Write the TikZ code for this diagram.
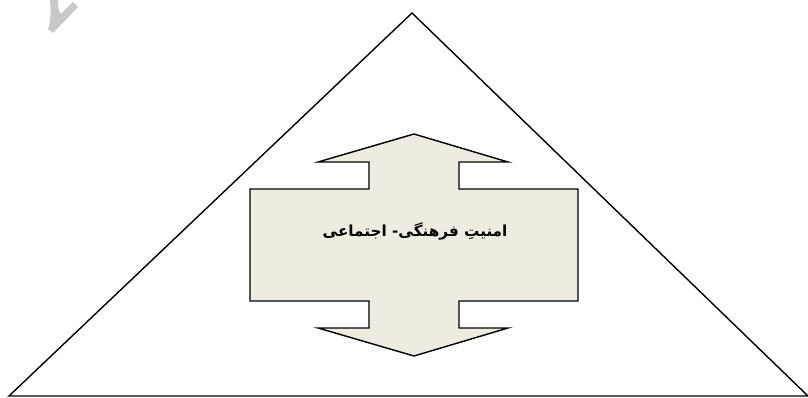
\documentclass[tikz,border=0pt]{standalone}
\usepackage{fontspec}
\newfontfamily\arabicfont[Script=Arabic]{DejaVu Sans}
\TeXXeTstate=1
\usetikzlibrary{calc}
\definecolor{boxfill}{HTML}{EEECE1}
\definecolor{markgray}{HTML}{C8C8C8}

\begin{document}
\begin{tikzpicture}[x=0.03cm, y=-0.03cm, line width=1.2pt, line join=miter]
    % bounding box
    \useasboundingbox (0, 0) rectangle (808, 398);

    % faint mark at top left
    \fill[markgray] (50, 0) -- (58, 0) .. controls (58, 8) and (59, 12) .. (61, 14)
        -- (73, 2) -- (78, 7) -- (53, 33) -- (48, 29)
        .. controls (51, 20) and (51, 10) .. cycle;

    % big triangle
    \coordinate (L) at (9, 396);
    \coordinate (R) at (808, 396);
    \coordinate (T) at (412, 13);
    \draw (L) -- (R) -- (T) -- cycle;

    % double arrow with box
    \filldraw[fill=boxfill] (414, 134) -- (508, 162) -- (459, 162) -- (459, 189)
        -- (578, 189) -- (578, 301) -- (459, 301) -- (459, 328) -- (508, 328)
        -- (414, 356) -- (318, 328) -- (369, 328) -- (369, 301) -- (250, 301)
        -- (250, 189) -- (369, 189) -- (369, 162) -- (318, 162) -- cycle;

    % label
    \node[font=\arabicfont\bfseries\fontsize{13}{15}\selectfont] (amniat) at (415, 231)
        {\beginR امنیتِ فرهنگی- اجتماعی\endR};
\end{tikzpicture}
\end{document}
